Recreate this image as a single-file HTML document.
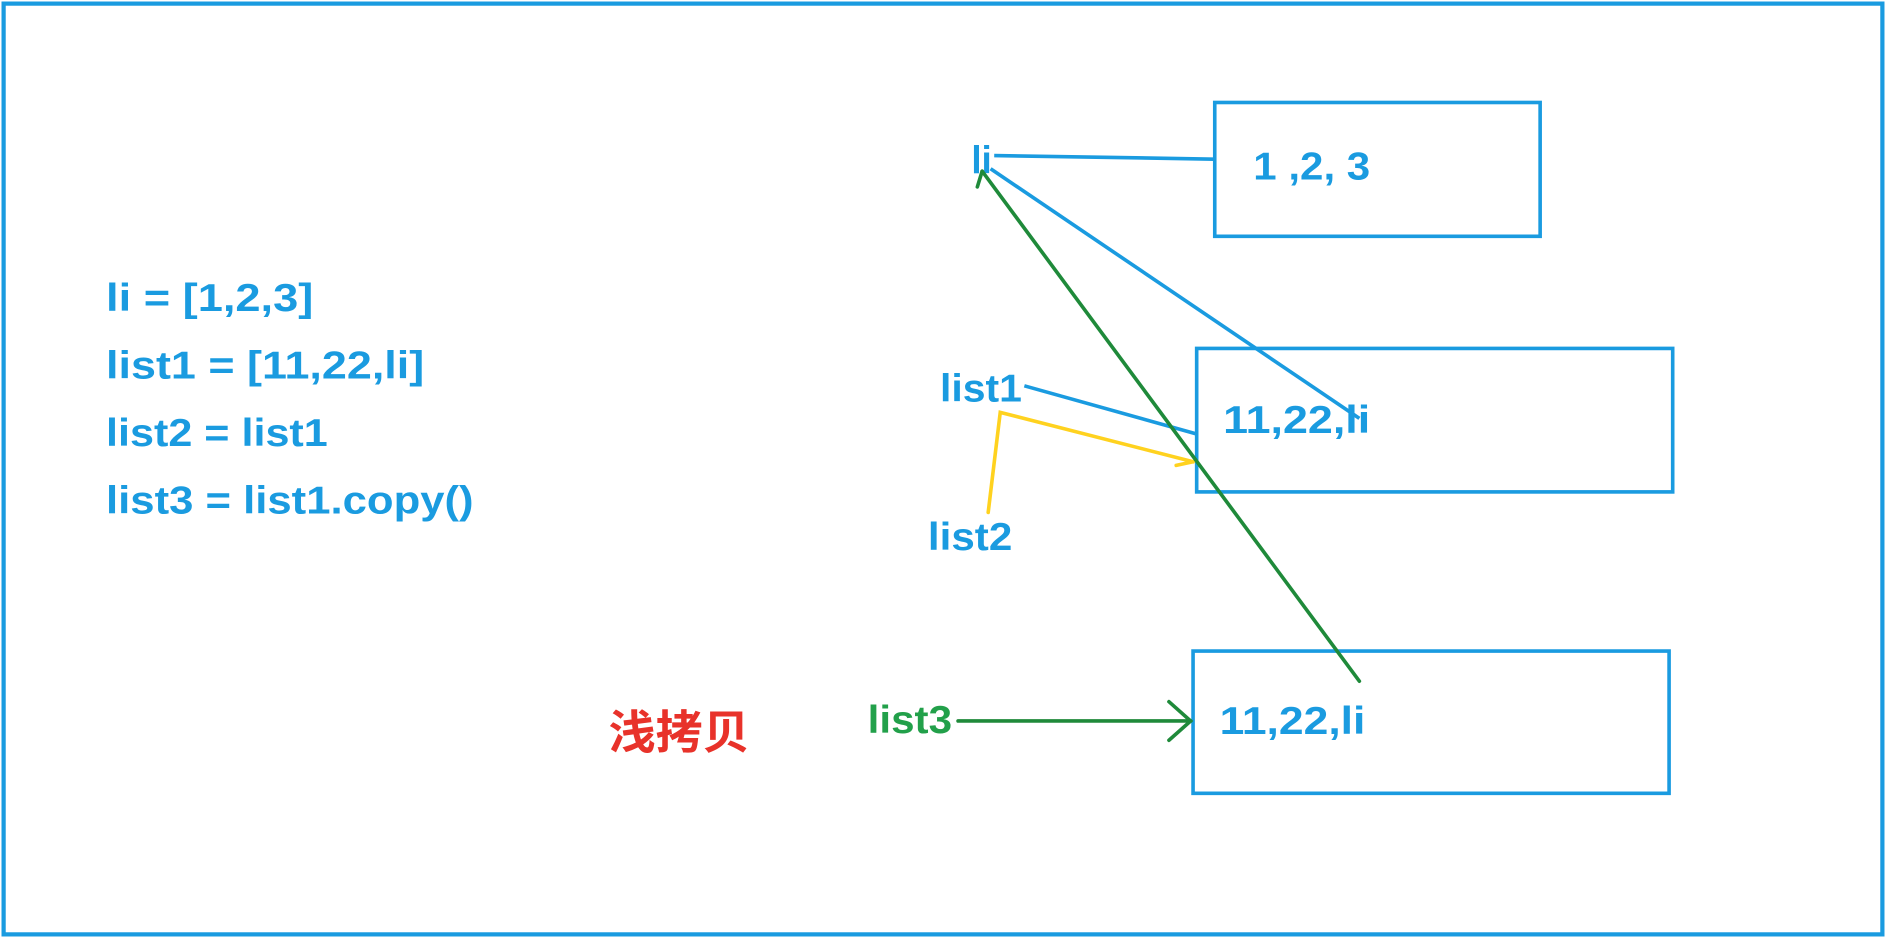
<!DOCTYPE html>
<html><head><meta charset="utf-8"><style>
html,body{margin:0;padding:0;background:#fff;overflow:hidden}
svg{display:block}
text{font-family:"Liberation Sans","Noto Sans CJK SC",sans-serif;font-weight:bold;font-size:32px;fill:#1a9be0}
</style></head><body>
<svg width="1886" height="938" viewBox="0 0 1565 778" preserveAspectRatio="none" xmlns="http://www.w3.org/2000/svg">
<rect x="3" y="3" width="1559" height="772" fill="#fff" stroke="#1a9be0" stroke-width="3.5"/>
<g fill="none" stroke="#1a9be0" stroke-width="3">
<rect x="1008" y="85" width="270" height="111"/>
<rect x="993" y="289" width="395" height="119"/>
<rect x="990" y="540" width="395" height="118"/>
<path d="M825 129 L1008 132"/>
<path d="M822 140 L1128 347"/>
<path d="M850 320 L993 360"/>
</g>
<text x="88" y="258" textLength="172" lengthAdjust="spacingAndGlyphs">li = [1,2,3]</text>
<text x="88" y="314" textLength="264" lengthAdjust="spacingAndGlyphs">list1 = [11,22,li]</text>
<text x="88" y="370" textLength="184" lengthAdjust="spacingAndGlyphs">list2 = list1</text>
<text x="88" y="426" textLength="305" lengthAdjust="spacingAndGlyphs">list3 = list1.copy()</text>
<text x="806" y="144" textLength="17" lengthAdjust="spacingAndGlyphs">li</text>
<text x="780" y="333" textLength="68" lengthAdjust="spacingAndGlyphs">list1</text>
<text x="770" y="456" textLength="70" lengthAdjust="spacingAndGlyphs">list2</text>
<text x="1040" y="149" textLength="97" lengthAdjust="spacingAndGlyphs">1 ,2, 3</text>
<text x="1015" y="359" textLength="122" lengthAdjust="spacingAndGlyphs">11,22,li</text>
<text x="1012" y="609" textLength="121" lengthAdjust="spacingAndGlyphs">11,22,li</text>
<text x="720" y="608" textLength="70" lengthAdjust="spacingAndGlyphs" style="fill:#22a04a">list3</text>
<text x="505" y="621" textLength="117" lengthAdjust="spacingAndGlyphs" style="fill:#e8322a;font-size:38px">浅拷贝</text>
<g fill="none" stroke="#ffd21f" stroke-width="3" stroke-linecap="round">
<path d="M820 425 L830 342 L990 383"/>
<path d="M976 386 L990 383"/>
</g>
<g fill="none" stroke="#1f8a3a" stroke-width="3" stroke-linecap="round">
<path d="M815 142 L1128 565"/>
<path d="M815 142 L811 155"/>
<path d="M795 598 L988 598"/>
<path d="M970 582 L988 598 L970 614"/>
</g>
</svg>
</body></html>
